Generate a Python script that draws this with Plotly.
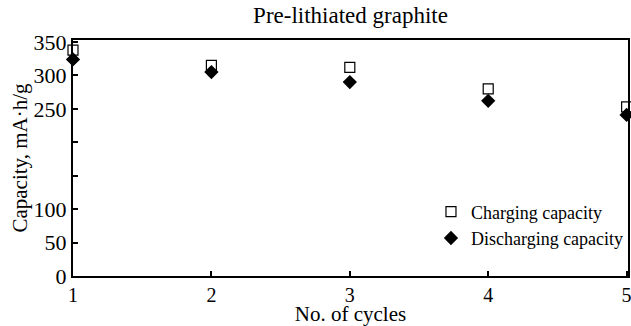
import plotly.graph_objects as go

cycles = [1, 2, 3, 4, 5]
charging = [338, 315, 312, 280, 253]
discharging = [324, 305, 290, 262, 241]
y_tickvals = [0, 50, 100, 150, 200, 250, 300, 350]
y_ticktext = ["0", "50", "100", "", "", "250", "300", "350"]
x_tickvals = [1, 2, 3, 4, 5]

FONT = "Liberation Serif"

fig = go.Figure()
fig.add_trace(go.Scatter(
    x=cycles, y=charging, mode="markers", name="Charging capacity",
    legendgroup="a",
    marker=dict(symbol="square-open", size=10, color="black", line=dict(width=1.2, color="black")),
    cliponaxis=False,
))
fig.add_trace(go.Scatter(
    x=cycles, y=discharging, mode="markers", name="Discharging capacity",
    legendgroup="b",
    marker=dict(symbol="diamond", size=11, color="black"),
    cliponaxis=False,
))

fig.update_layout(
    width=631, height=326,
    margin=dict(l=73, r=3, t=40, b=50, autoexpand=False),
    paper_bgcolor="white", plot_bgcolor="white",
    font=dict(family=FONT, color="black", size=21),
    title=dict(text="Pre-lithiated graphite", x=0.5, xref="paper", xanchor="center",
               y=0.955, yref="container", yanchor="middle", font=dict(size=23, family=FONT)),
    showlegend=True,
    legend=dict(x=0.645, y=0.35, xanchor="left", yanchor="top",
                font=dict(size=18, family=FONT), bgcolor="rgba(0,0,0,0)",
                tracegroupgap=0, traceorder="grouped", itemwidth=30),
    xaxis=dict(range=[1, 5.01], tickvals=x_tickvals, ticks="inside", ticklen=5, tickwidth=1.5,
               tickcolor="black", showline=True, linecolor="black", linewidth=2, mirror=True,
               showgrid=False, zeroline=False, tickfont=dict(size=20, family=FONT),
               automargin=False, ticklabeloverflow="allow",
               title=dict(text="No. of cycles", font=dict(size=21, family=FONT), standoff=0)),
    yaxis=dict(range=[0, 353], tickvals=y_tickvals, ticktext=y_ticktext, ticks="inside", ticklen=5,
               tickwidth=1.5, tickcolor="black", showline=True, linecolor="black", linewidth=2,
               mirror=True, showgrid=False, zeroline=False, tickfont=dict(size=22, family=FONT),
               automargin=False, ticklabeloverflow="allow",
               title=dict(text="Capacity, mA·h/g", font=dict(size=21, family=FONT), standoff=0)),
)

fig.write_html("out.html")
